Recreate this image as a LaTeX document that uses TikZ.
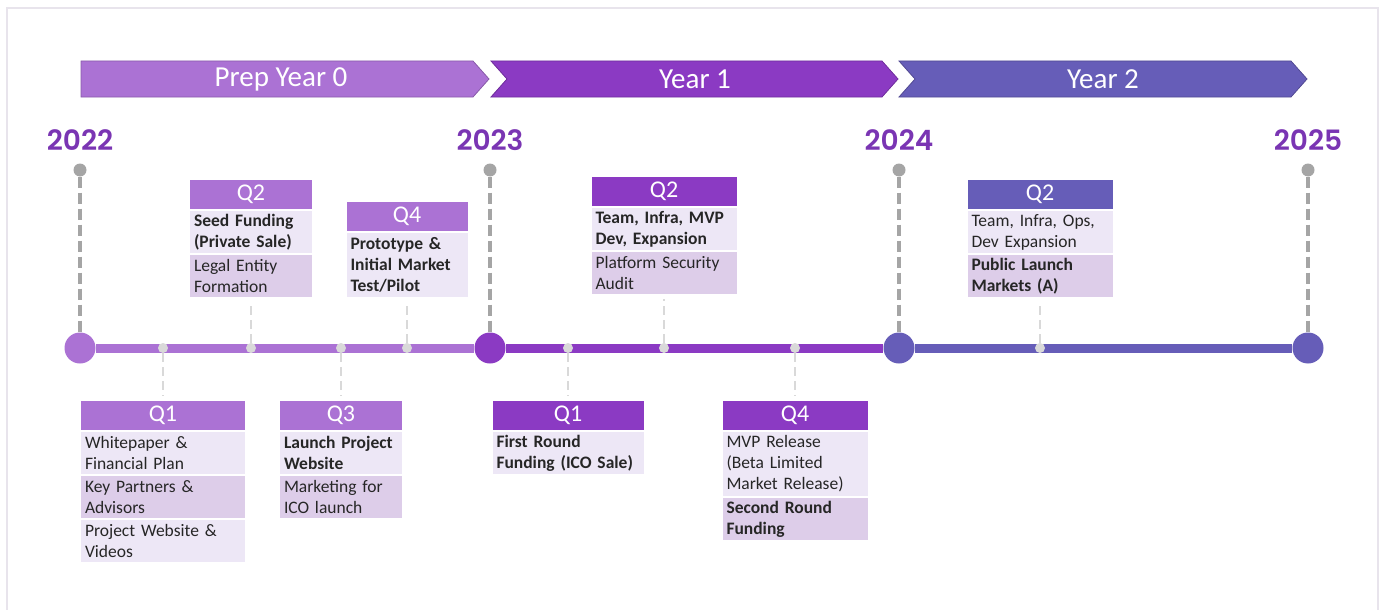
\documentclass[tikz,border=0pt]{standalone}
\usepackage{fontspec}
\setmainfont{Carlito}
\newfontfamily\yearfont{Poppins}[UprightFont = {* SemiBold}]
\usetikzlibrary{positioning}

\definecolor{prepcol}{HTML}{AB72D4}
\definecolor{yearonecol}{HTML}{8B3AC3}
\definecolor{yeartwocol}{HTML}{665DB8}
\definecolor{yeartext}{HTML}{7A35B3}
\definecolor{lightrow}{HTML}{EDE7F6}
\definecolor{darkrow}{HTML}{DDCDE9}
\definecolor{pingray}{HTML}{A5A5A5}
\definecolor{dotgray}{HTML}{D9D9D9}
\definecolor{bodytext}{HTML}{262626}
\definecolor{framegray}{HTML}{E8E4EC}

\begin{document}
\begin{tikzpicture}[%
        x = 1pt, y = -1pt,
        node distance = 1.5pt,
        band/.style = {fill = #1, draw = #1!80!black, line width = 0.8pt},
        bandlabel/.style = {text = white, font = \fontsize{29}{29}\selectfont},
        yearlabel/.style = {text = yeartext, font = \yearfont\fontsize{28}{28}\selectfont},
        pinhead/.style = {circle, fill = pingray, inner sep = 0pt, minimum size = 13pt},
        stem/.style = {draw = pingray, line width = 4pt, dash pattern = on 11pt off 5pt},
        milestone/.style = {circle, fill = #1, inner sep = 0pt, minimum size = 31pt},
        qdot/.style = {circle, fill = dotgray, inner sep = 0pt, minimum size = 10pt},
        link/.style = {draw = dotgray, line width = 2.5pt, dash pattern = on 9pt off 5pt,
            shorten > = 5pt},
        qhead/.style 2 args = {fill = #1, text width = #2, text = white, align = center,
            inner xsep = 4pt, inner ysep = 0pt, minimum height = 29pt,
            font = \fontsize{24}{24}\selectfont},
        qrow/.style 2 args = {fill = #1, text width = #2, text = bodytext, align = left,
            inner xsep = 4pt, inner ysep = 0pt, minimum height = 42pt,
            font = \fontsize{17.5}{21}\selectfont}
    ]

        \useasboundingbox (0,0) rectangle (1379,610);

        % Open frame round the page.
        \draw[framegray, line width = 1.5pt] (7,610) -- (7,8) -- (1378,8) -- (1378,610);

        % Year bands along the top.
        \draw[band = prepcol] (81,61) -- (473,61) -- (489,79) -- (473,97) -- (81,97) -- cycle;
        \draw[band = yearonecol] (491,61) -- (882,61) -- (898,79) -- (882,97)
            -- (491,97) -- (507,79) -- cycle;
        \draw[band = yeartwocol] (899,61) -- (1291,61) -- (1307,79) -- (1291,97)
            -- (899,97) -- (915,79) -- cycle;
        \node[bandlabel] at (281,79) {Prep Year 0};
        \node[bandlabel] at (695,79) {Year 1};
        \node[bandlabel] at (1103,79) {Year 2};

        % Years, pins and milestones.
        \foreach \y/\x/\c in {22/80/prepcol, 23/490/yearonecol, 24/899/yeartwocol, 25/1308/yeartwocol}{%
            \node[yearlabel] (t\y) at (\x,140) {20\y};
            \node[pinhead] (p\y) at (\x,170) {};
            \node[milestone = \c] (m\y) at (\x,348) {};
            \draw[stem] (p\y) -- (m\y);
        }

        % Timeline segments between the milestones.
        \draw[prepcol, line width = 9pt] (m22) -- (m23);
        \draw[yearonecol, line width = 9pt] (m23) -- (m24);
        \draw[yeartwocol, line width = 9pt] (m24) -- (m25);

        % Quarter marks on the timeline.
        \foreach \n/\x in {p1/163, p2/251, p3/341, p4/407, a1/568, a2/664, a4/795, b2/1040}{%
            \node[qdot] (d\n) at (\x,348) {};
        }

        % Prep year 0, quarter 1.
        \node[qhead = {prepcol}{156pt}, anchor = north] (p1h) at (163,401) {Q1};
        \node[qrow = {lightrow}{156pt}, below = of p1h] (p1r1) {Whitepaper \&\\Financial Plan};
        \node[qrow = {darkrow}{156pt}, below = of p1r1] (p1r2) {Key Partners \&\\Advisors};
        \node[qrow = {lightrow}{156pt}, below = of p1r2] (p1r3) {Project Website \&\\Videos};

        % Prep year 0, quarter 2.
        \node[qhead = {prepcol}{114pt}, anchor = north] (p2h) at (251,180) {Q2};
        \node[qrow = {lightrow}{114pt}, below = of p2h] (p2r1) {\bfseries Seed Funding\\(Private Sale)};
        \node[qrow = {darkrow}{114pt}, below = of p2r1] (p2r2) {Legal Entity\\Formation};

        % Prep year 0, quarter 3.
        \node[qhead = {prepcol}{114pt}, anchor = north] (p3h) at (341,401) {Q3};
        \node[qrow = {lightrow}{114pt}, below = of p3h] (p3r1) {\bfseries Launch Project\\Website};
        \node[qrow = {darkrow}{114pt}, below = of p3r1] (p3r2) {Marketing for\\ICO launch};

        % Prep year 0, quarter 4.
        \node[qhead = {prepcol}{113pt}, anchor = north] (p4h) at (407,202) {Q4};
        \node[qrow = {lightrow}{113pt}, below = of p4h, minimum height = 64pt] (p4r1)
            {\bfseries Prototype \&\\Initial Market\\Test/Pilot};

        % Year 1, quarter 1.
        \node[qhead = {yearonecol}{143pt}, anchor = north] (a1h) at (568,401) {Q1};
        \node[qrow = {lightrow}{143pt}, below = of a1h] (a1r1) {\bfseries First Round\\Funding (ICO Sale)};

        % Year 1, quarter 2.
        \node[qhead = {yearonecol}{137pt}, anchor = north] (a2h) at (664,177) {Q2};
        \node[qrow = {lightrow}{137pt}, below = of a2h] (a2r1) {\bfseries Team, Infra, MVP\\Dev, Expansion};
        \node[qrow = {darkrow}{137pt}, below = of a2r1] (a2r2) {Platform Security\\Audit};

        % Year 1, quarter 4.
        \node[qhead = {yearonecol}{137pt}, anchor = north] (a4h) at (795,401) {Q4};
        \node[qrow = {lightrow}{137pt}, below = of a4h, minimum height = 64pt] (a4r1)
            {MVP Release\\(Beta Limited\\Market Release)};
        \node[qrow = {darkrow}{137pt}, below = of a4r1] (a4r2) {\bfseries Second Round\\Funding};

        % Year 2, quarter 2.
        \node[qhead = {yeartwocol}{137pt}, anchor = north] (b2h) at (1040,180) {Q2};
        \node[qrow = {lightrow}{137pt}, below = of b2h] (b2r1) {Team, Infra, Ops,\\Dev Expansion};
        \node[qrow = {darkrow}{137pt}, below = of b2r1] (b2r2) {\bfseries Public Launch\\Markets (A)};

        % Dashed links from the marks to their boxes.
        \draw[link] (dp1) -- (dp1 |- p1h.north);
        \draw[link] (dp2) -- (dp2 |- p2r2.south);
        \draw[link] (dp3) -- (dp3 |- p3h.north);
        \draw[link] (dp4) -- (dp4 |- p4r1.south);
        \draw[link] (da1) -- (da1 |- a1h.north);
        \draw[link] (da2) -- (da2 |- a2r2.south);
        \draw[link] (da4) -- (da4 |- a4h.north);
        \draw[link] (db2) -- (db2 |- b2r2.south);
    \end{tikzpicture}
\end{document}
